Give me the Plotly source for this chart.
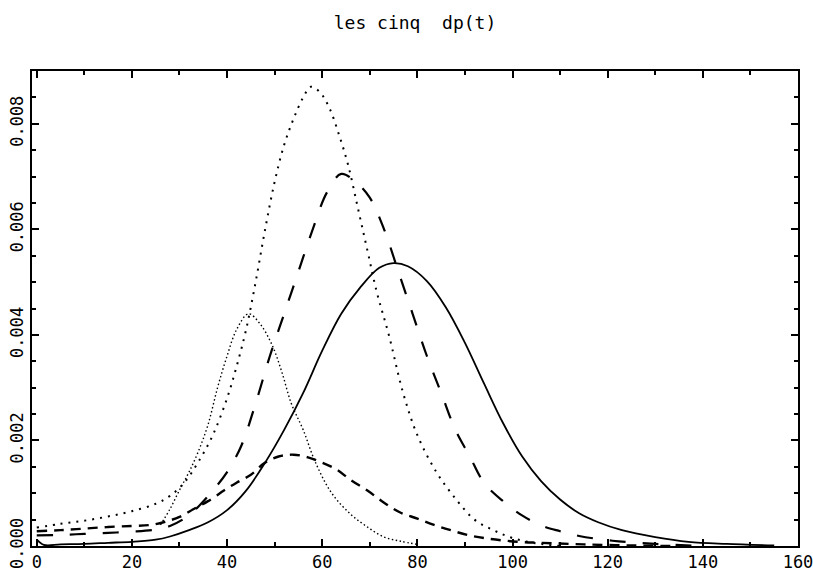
import plotly.graph_objects as go

# ---- data ----
solid_t = [0, 1.5, 5, 10, 15, 20, 25, 28, 32, 36, 40, 44, 48, 52, 56, 60, 64, 68, 72, 75, 78, 82, 86, 90, 94, 98, 102, 106, 110, 114, 118, 123, 130, 137, 145, 155]
solid_v = [0.00012, 0.00002, 0.00003, 0.00004, 0.00006, 0.00008, 0.00012, 0.00018, 0.0003, 0.00045, 0.00068, 0.00105, 0.00158, 0.0022, 0.0029, 0.0037, 0.0044, 0.0049, 0.00527, 0.00536, 0.0053, 0.00502, 0.00452, 0.00385, 0.00308, 0.00233, 0.0017, 0.00123, 0.00088, 0.00062, 0.00045, 0.0003, 0.00017, 0.00008, 0.00004, 0.00001]

longdash_t = [0, 5, 10, 15, 20, 25, 28, 31, 34, 37, 40, 43, 46, 49, 52, 55, 58, 61, 64, 67, 70, 73, 76, 79, 82, 85, 88, 91, 94, 98, 102, 106, 110, 114, 121, 130, 140]
longdash_v = [0.0002, 0.00021, 0.00023, 0.00025, 0.00027, 0.00031, 0.00038, 0.00052, 0.00075, 0.00105, 0.0014, 0.0019, 0.0027, 0.0036, 0.0044, 0.0052, 0.006, 0.0067, 0.00705, 0.0069, 0.0066, 0.006, 0.0052, 0.0044, 0.0036, 0.0029, 0.0022, 0.0017, 0.0012, 0.00085, 0.00058, 0.00039, 0.00028, 0.00019, 0.0001, 0.00004, 0.0]

shortdash_t = [0, 5, 10, 15, 20, 24, 27, 30, 33, 36, 39.5, 42, 45, 48, 51, 54, 57, 60, 63, 66, 69.5, 73, 76.5, 80, 83.5, 87, 90.5, 94, 101, 106, 115, 125, 135]
shortdash_v = [0.00028, 0.0003, 0.00033, 0.00036, 0.00038, 0.0004, 0.00046, 0.00055, 0.0007, 0.00085, 0.00106, 0.0012, 0.00135, 0.00158, 0.0017, 0.00173, 0.00168, 0.00158, 0.00145, 0.00125, 0.00105, 0.00082, 0.00063, 0.00052, 0.0004, 0.0003, 0.00021, 0.00015, 0.00008, 0.00006, 0.00003, 0.00001, 0.0]

dottall_t = [0, 5, 10, 15, 20, 25, 28, 31, 34, 37, 40, 42, 44, 46, 48, 50, 52, 54, 56, 57.6, 59.5, 61.5, 63.5, 65.5, 67.5, 69.5, 71.5, 74, 77, 80, 84, 88, 92, 96, 100, 105, 110]
dottall_v = [0.00035, 0.00042, 0.00048, 0.00056, 0.00066, 0.0008, 0.00095, 0.0012, 0.0016, 0.0021, 0.0028, 0.0034, 0.0041, 0.0050, 0.0060, 0.0069, 0.0076, 0.0081, 0.0085, 0.0087, 0.0086, 0.0083, 0.0078, 0.0072, 0.0064, 0.0056, 0.0048, 0.0040, 0.0029, 0.0021, 0.0014, 0.0009, 0.0005, 0.0003, 0.00015, 0.00005, 0.0]

dotsmall_t = [26, 28, 30, 32, 34, 36, 38, 40, 42, 44.5, 47, 49.5, 51.5, 53.5, 56, 58.5, 62, 66, 69.5, 73, 76.5, 80]
dotsmall_v = [0.0004, 0.0007, 0.00106, 0.0014, 0.0018, 0.0023, 0.0030, 0.0036, 0.0041, 0.0044, 0.0042, 0.0038, 0.0033, 0.0027, 0.0022, 0.0016, 0.0010, 0.0006, 0.00036, 0.00017, 0.00009, 0.00003]

x_tickvals = [0, 20, 40, 60, 80, 100, 120, 140, 160]
y_tickvals = [0.0, 0.002, 0.004, 0.006, 0.008]
title_text = "les cinq\u00a0\u00a0dp(t)"

# ---- figure ----
fig = go.Figure()
series = [
    (solid_t, solid_v, "solid", 1.8),
    (longdash_t, longdash_v, "16px,17px", 2.2),
    (shortdash_t, shortdash_v, "10px,7px", 2.4),
    (dottall_t, dottall_v, "2px,6px", 2.0),
    (dotsmall_t, dotsmall_v, "1.5px,2.5px", 1.4),
]
for t, v, dash, w in series:
    fig.add_trace(go.Scatter(x=t, y=v, mode="lines",
                             line=dict(color="black", width=w, dash=dash, shape="spline", smoothing=1.0),
                             showlegend=False, hoverinfo="skip"))

tickfont = dict(family="DejaVu Sans Mono", size=17, color="black")
fig.update_layout(
    width=813, height=579,
    margin=dict(l=32, r=15, t=71, b=33, autoexpand=False),
    paper_bgcolor="white", plot_bgcolor="white",
    title=dict(text=title_text, x=0.5, xref="paper", xanchor="center",
               y=1 - 23 / 579, yref="container", yanchor="middle", automargin=False,
               font=dict(family="DejaVu Sans Mono", size=18, color="black")),
    xaxis=dict(range=[-1, 160], tickvals=x_tickvals, ticktext=[str(v) for v in x_tickvals],
               automargin=False, ticklabeloverflow="allow",
               showgrid=False, zeroline=False, showline=True, linecolor="black", linewidth=2,
               mirror="allticks", ticks="inside", ticklen=7, tickwidth=1.5, tickcolor="black",
               tickfont=tickfont,
               minor=dict(dtick=10, tick0=0, ticks="inside", ticklen=4, tickwidth=1.5, tickcolor="black", showgrid=False)),
    yaxis=dict(range=[0, 0.009], tickvals=y_tickvals, ticktext=["%.3f" % v for v in y_tickvals],
               tickangle=-90, automargin=False, ticklabeloverflow="allow",
               showgrid=False, zeroline=False, showline=True, linecolor="black", linewidth=2,
               mirror="allticks", ticks="inside", ticklen=7, tickwidth=1.5, tickcolor="black",
               tickfont=tickfont,
               minor=dict(dtick=0.0005, tick0=0, ticks="inside", ticklen=4, tickwidth=1.5, tickcolor="black", showgrid=False)),
)

fig.write_html("out.html", config={"displayModeBar": False},
               post_script="document.body.style.margin='0';document.body.style.overflow='hidden';")
